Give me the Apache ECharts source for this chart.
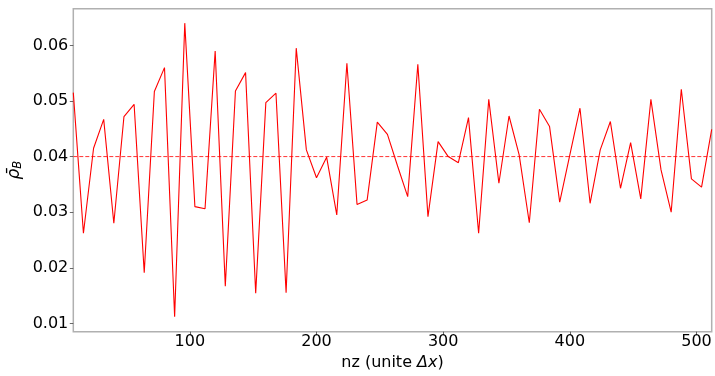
<!DOCTYPE html>
<html>
<head>
<meta charset="utf-8">
<script src="https://cdn.jsdelivr.net/npm/echarts@6/dist/echarts.min.js"></script>
<style>html,body{margin:0;padding:0;background:#fff}#c{width:715px;height:376px}</style>
</head>
<body>
<div id="c"></div>
<script>
const nz = [8,16,24,32,40,48,56,64,72,80,88,96,104,112,120,128,136,144,152,160,168,176,184,192,200,208,216,224,232,240,248,256,264,272,280,288,296,304,312,320,328,336,344,352,360,368,376,384,392,400,408,416,424,432,440,448,456,464,472,480,488,496,504,512];
const rhoB = [0.0515,0.0262,0.0415,0.0467,0.0280,0.0472,0.0494,0.0191,0.0517,0.0560,0.0112,0.0640,0.0310,0.0306,0.0590,0.0167,0.0518,0.0551,0.0154,0.0497,0.0514,0.0155,0.0595,0.0412,0.0362,0.0399,0.0295,0.0568,0.0314,0.0322,0.0462,0.0440,0.0383,0.0328,0.0566,0.0292,0.0427,0.0400,0.0389,0.0470,0.0262,0.0503,0.0352,0.0473,0.0403,0.0281,0.0485,0.0454,0.0318,0.0403,0.0487,0.0316,0.0412,0.0463,0.0343,0.0425,0.0324,0.0503,0.0376,0.0300,0.0521,0.0360,0.0345,0.0449];
const meanLevel = 0.04;
const xRange = [8, 512];
const xTicks = [100,200,300,400,500];
const yTicks = [0.01,0.02,0.03,0.04,0.05,0.06];

const chart = echarts.init(document.getElementById('c'), null, {renderer:'canvas'});
const font = 'DejaVu Sans';
const fs = 16;
chart.setOption({
  animation:false,
  backgroundColor:'#fff',
  textStyle:{fontFamily:font},
  grid:{left:73.3,right:3.3,top:8.7,bottom:44.3,show:true,borderColor:'#b0b0b0',borderWidth:1.5,containLabel:false,outerBoundsMode:'none'},
  xAxis:{
    type:'value',min:xRange[0],max:xRange[1],
    axisLine:{show:false},
    splitLine:{show:false},
    axisTick:{show:true,length:3.5,lineStyle:{color:'#444',width:0.8},customValues:xTicks},
    axisLabel:{fontSize:fs,color:'#000',fontFamily:font,margin:2,customValues:xTicks,formatter:v=>String(v)},
    name:'{a|nz (unite }{b|Δx}{a|)}',
    nameLocation:'middle',nameGap:23,nameMoveOverlap:false,
    nameTextStyle:{rich:{a:{fontSize:fs,color:'#000',fontFamily:font},b:{fontSize:fs,color:'#000',fontFamily:font,fontStyle:'italic'}}}
  },
  yAxis:{
    type:'value',min:0.0085,max:0.0666,
    axisLine:{show:false},
    splitLine:{show:false},
    axisTick:{show:true,length:3.5,lineStyle:{color:'#444',width:0.8},customValues:yTicks},
    axisLabel:{fontSize:fs,color:'#000',fontFamily:font,margin:5,customValues:yTicks,formatter:v=>v.toFixed(2)},
    name:'{r|ρ̄}{s|B}',
    nameLocation:'middle',nameGap:49,nameRotate:90,nameMoveOverlap:false,
    nameTextStyle:{rich:{r:{fontSize:17,color:'#000',fontFamily:font,fontStyle:'italic'},s:{fontSize:11.5,color:'#000',fontFamily:font,fontStyle:'italic',padding:[7,0,0,0]}}}
  },
  series:[{
    type:'line',
    data:xRange.map(x=>[x,meanLevel]),
    showSymbol:false,symbol:'none',silent:true,
    lineStyle:{color:'#ff3333',type:[4,2],width:1}
  },{
    type:'line',
    data:nz.map((x,i)=>[x,rhoB[i]]),
    showSymbol:false,symbol:'none',
    lineStyle:{color:'#ff0000',width:1.1}
  }]
});
</script>
</body>
</html>
